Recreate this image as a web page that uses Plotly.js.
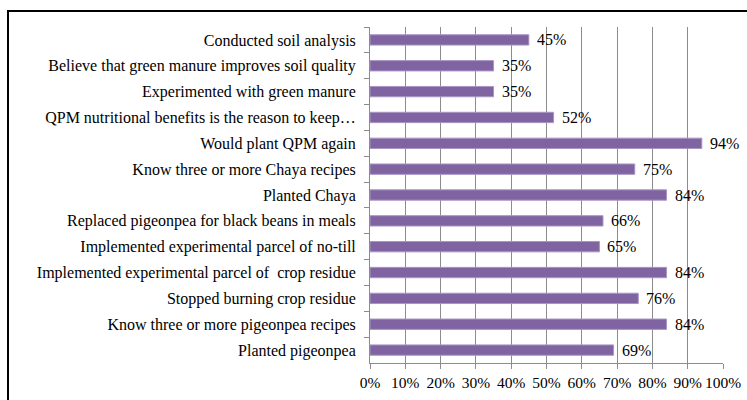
<!DOCTYPE html>
<html>
<head>
<meta charset="utf-8">
<script src="https://cdn.plot.ly/plotly-3.0.1.min.js"></script>
<style>
  html, body { margin: 0; padding: 0; background: #fff; overflow: hidden; }
  #chart { width: 747px; height: 400px; }
  #frame { position: absolute; left: 7px; top: 10px; width: 800px; height: 500px;
           border: 2px solid #000; pointer-events: none; }
</style>
</head>
<body>
<div id="chart"></div>
<div id="frame"></div>
<script>
const categories = [
  "Conducted soil analysis",
  "Believe that green manure improves soil quality",
  "Experimented with green manure",
  "QPM nutritional benefits is the reason to keep…",
  "Would plant QPM again",
  "Know three or more Chaya recipes",
  "Planted Chaya",
  "Replaced pigeonpea for black beans in meals",
  "Implemented experimental parcel of no-till",
  "Implemented experimental parcel of  crop residue",
  "Stopped burning crop residue",
  "Know three or more pigeonpea recipes",
  "Planted pigeonpea"
];
const percentValues = [45, 35, 35, 52, 94, 75, 84, 66, 65, 84, 76, 84, 69];
const tickValues = [0, 0.1, 0.2, 0.3, 0.4, 0.5, 0.6, 0.7, 0.8, 0.9, 1.0];
const tickLabels = ["0%", "10%", "20%", "30%", "40%", "50%", "60%", "70%", "80%", "90%", "100%"];

const fractions = percentValues.map(v => v / 100);
const font = { family: "'Liberation Serif', 'Times New Roman', serif", size: 16, color: "#000" };
const tickFontX = { family: "'Liberation Serif', 'Times New Roman', serif", size: 15.5, color: "#000" };

const trace = {
  type: "bar",
  orientation: "h",
  y: categories,
  x: fractions,
  marker: { color: "#8064A2", line: { color: "#a896c4", width: 1 } },
  hoverinfo: "none"
};

const annotations = categories.map((c, i) => ({
  x: fractions[i], y: c, xref: "x", yref: "y",
  text: percentValues[i] + "%", showarrow: false,
  xanchor: "left", yanchor: "middle", xshift: 6,
  font: font
}));

const layout = {
  width: 747, height: 400,
  margin: { l: 370, r: 23.5, t: 27, b: 37, pad: 0 },
  paper_bgcolor: "#fff", plot_bgcolor: "#fff",
  showlegend: false,
  bargap: 0.6,
  font: font,
  xaxis: {
    range: [0, 1], tickvals: tickValues, ticktext: tickLabels,
    tickangle: 0,
    showgrid: true, gridcolor: "#8c8c8c", gridwidth: 1,
    showline: true, linecolor: "#8c8c8c", linewidth: 1,
    ticks: "outside", ticklen: 5, tickcolor: "#8c8c8c",
    zeroline: false, fixedrange: true, automargin: false,
    tickfont: tickFontX
  },
  yaxis: {
    type: "category", autorange: "reversed",
    showline: true, linecolor: "#8c8c8c", linewidth: 1,
    ticks: "outside", ticklen: 5, tickcolor: "#8c8c8c",
    tickson: "boundaries", showgrid: false,
    ticklabelstandoff: 10,
    fixedrange: true, automargin: false,
    tickfont: font
  },
  annotations: annotations
};

Plotly.newPlot("chart", [trace], layout, { displayModeBar: false, staticPlot: true });
</script>
</body>
</html>
